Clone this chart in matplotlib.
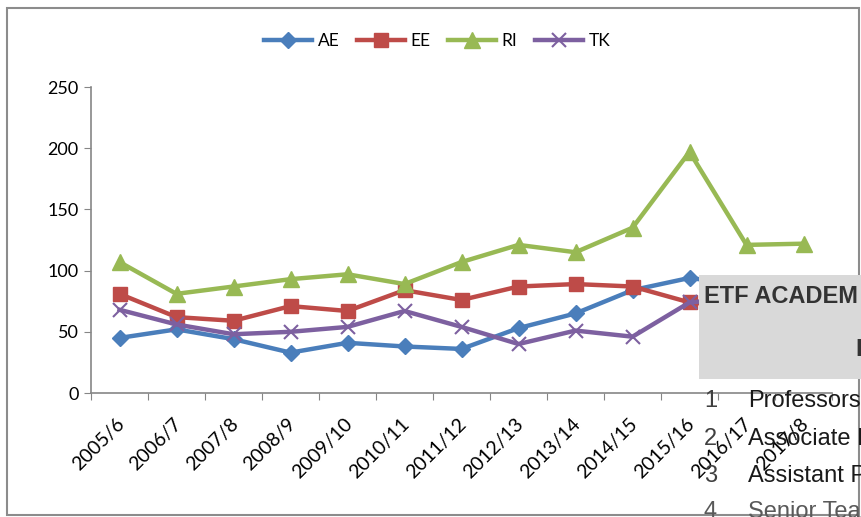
import numpy as np
import matplotlib
matplotlib.use('Agg')
import matplotlib.pyplot as plt
import matplotlib.transforms as mtransforms
from matplotlib.patches import Rectangle

plt.rcParams['font.family'] = ['Lato', 'DejaVu Sans']

# data (last two points of AE/EE/TK sit under the grey box)
years = ['2005/6', '2006/7', '2007/8', '2008/9', '2009/10', '2010/11', '2011/12',
         '2012/13', '2013/14', '2014/15', '2015/16', '2016/17', '2017/8']
AE = [45, 52, 44, 33, 41, 38, 36, 53, 65, 84, 94, 88, 85]
EE = [81, 62, 59, 71, 67, 84, 76, 87, 89, 87, 74, 70, 72]
RI = [107, 81, 87, 93, 97, 89, 107, 121, 115, 135, 197, 121, 122]
TK = [68, 56, 48, 50, 54, 67, 54, 40, 51, 46, 74, 78, 80]

# overlay text from the document underneath
box_title = 'ETF ACADEM'
row_nums = ['1', '2', '3', '4']
row_names = ['Professors', 'Associate P', 'Assistant P', 'Senior Tea']

W, H = 861, 517
fig = plt.figure(figsize=(W / 100, H / 100), dpi=100)
ax = fig.add_axes([91 / W, 1 - 393 / H, (832 - 91) / W, (393 - 87) / H])

x = np.arange(len(years))
ax.plot(x, AE, color='#4A7EBB', lw=3.2, marker='D', ms=8.5, label='AE')
ax.plot(x, EE, color='#BE4B48', lw=3.2, marker='s', ms=10, label='EE')
ax.plot(x, RI, color='#98B954', lw=3.2, marker='^', ms=11, label='RI')
ax.plot(x, TK, color='#7D60A0', lw=3.2, marker='x', ms=10, mew=1.5, label='TK')

ax.set_xlim(-0.5, len(years) - 0.5)
ax.set_ylim(0, 250)
ax.set_yticks(range(0, 251, 50))
ax.set_xticks(np.arange(-0.5, len(years), 1))
ax.set_xticklabels([])
ax.set_xticks(x, minor=True)
ax.set_xticklabels(years, minor=True, rotation=45, ha='right', va='top',
                   rotation_mode='anchor')
ax.tick_params(axis='x', which='major', length=5, color='#868686', direction='out')
ax.tick_params(axis='x', which='minor', length=0, pad=16, labelsize=14)
ax.tick_params(axis='y', length=5, color='#868686', pad=4, labelsize=13)
off = mtransforms.ScaledTranslation(-2.5 / 72, 0, fig.dpi_scale_trans)
for lab in ax.get_xticklabels(minor=True):
    lab.set_transform(lab.get_transform() + off)

for s in ['top', 'right']:
    ax.spines[s].set_visible(False)
for s in ['left', 'bottom']:
    ax.spines[s].set_color('#868686')
    ax.spines[s].set_linewidth(1.2)

ax.legend(loc='center', bbox_to_anchor=(437 / W, 1 - 41 / H), bbox_transform=fig.transFigure,
          ncol=4, frameon=False, handlelength=2.8, columnspacing=1.0,
          handletextpad=0.3, fontsize=12.5)

# outer chart frame
fig.add_artist(Rectangle((7 / W, 1 - 515 / H), (859 - 7) / W, (515 - 8) / H,
                         transform=fig.transFigure, fill=False, ec='#8c8c8c', lw=1.5, zorder=1))

# grey box and text of the page laid over the chart
fig.add_artist(Rectangle((699 / W, 1 - 379 / H), (W - 699) / W, 104 / H,
                         transform=fig.transFigure, fc='#d9d9d9', ec='none', zorder=2))
fig.text(704 / W, 1 - 303 / H, box_title, family='Liberation Sans', weight='bold',
         fontsize=17, color='#333333', va='baseline', zorder=3)
fig.text(855.5 / W, 1 - 356 / H, 'I', family='Liberation Sans', weight='bold',
         fontsize=17, color='#333333', va='baseline', zorder=3)

baselines = [407, 445, 482, 518]
for i in range(len(row_nums)):
    c = '#595959' if i == 3 else '#1a1a1a'
    fig.text(704 / W, 1 - baselines[i] / H, row_nums[i], family='Liberation Sans',
             fontsize=17, color='#404040' if i < 3 else c, va='baseline', zorder=3)
    fig.text(748 / W, 1 - baselines[i] / H, row_names[i], family='Liberation Sans',
             fontsize=17, color=c, va='baseline', zorder=3)

fig.savefig('out.png', dpi=100)
